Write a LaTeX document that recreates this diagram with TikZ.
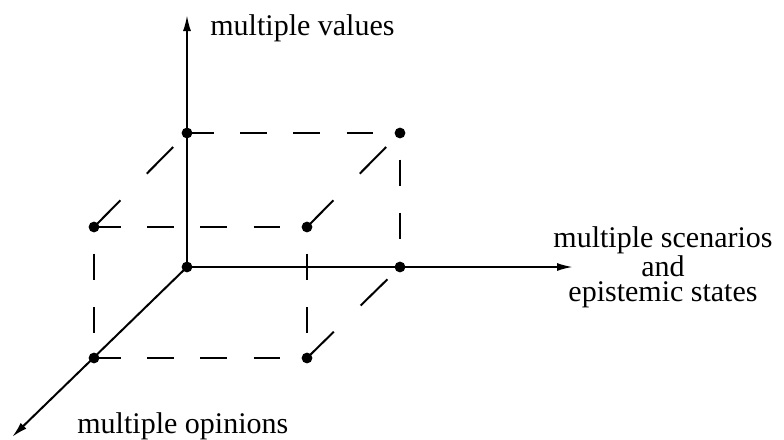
\documentclass[tikz,border=0pt]{standalone}
\usepackage{fontspec}
\setmainfont{Liberation Serif}
\usetikzlibrary{arrows.meta}

\begin{document}
\begin{tikzpicture}[x=0.5pt,y=-0.5pt,
  dot/.style={circle,fill,inner sep=0pt,minimum size=5.4pt},
  axis/.style={line width=1pt,-{Latex[length=8pt,width=4pt]}},
  hedge/.style={line width=1pt,dash pattern=on 13.3pt off 13.3pt},
  vedge/.style={hedge,dash phase=13.3pt},
  dedge/.style={line width=1pt,dash pattern=on 18.75pt off 18.75pt},
  lbl/.style={font=\fontsize{15}{12.75}\selectfont,inner sep=0pt}]
\useasboundingbox (0,0) rectangle (784,440);
% corners of the box
\node[dot] (O) at (187,267) {};
\node[dot] (A) at (187,133) {};
\node[dot] (B) at (400,133) {};
\node[dot] (C) at (400,267) {};
\node[dot] (E) at (94,227) {};
\node[dot] (F) at (307,227) {};
\node[dot] (G) at (307,358) {};
\node[dot] (D) at (94,358) {};
\coordinate (vtip) at (187,15);
\coordinate (htip) at (573,267);
\coordinate (dtip) at (12,437);
% dashed edges
\draw[hedge] (A.center) -- (B.center);
\draw[hedge] (E.center) -- (F.center);
\draw[hedge] (D.center) -- (G.center);
\draw[vedge] (B.center) -- (C.center);
\draw[vedge] (E.center) -- (D.center);
\draw[vedge] (F.center) -- (G.center);
\draw[dedge] (E.center) -- (A.center);
\draw[dedge] (F.center) -- (B.center);
\draw[dedge] (G.center) -- (C.center);
% axes
\draw[axis] (O.center) -- (vtip);
\draw[axis] (O.center) -- (htip);
\draw[axis] (O.center) -- (dtip);
% labels
\node[lbl,anchor=base west] (values) at (210,35) {multiple values};
\node[lbl,anchor=north,align=center] (scen) at (663,226) {multiple scenarios\\and\\epistemic states};
\node[lbl,anchor=base west] (opin) at (77,433) {multiple opinions};
\end{tikzpicture}
\end{document}
